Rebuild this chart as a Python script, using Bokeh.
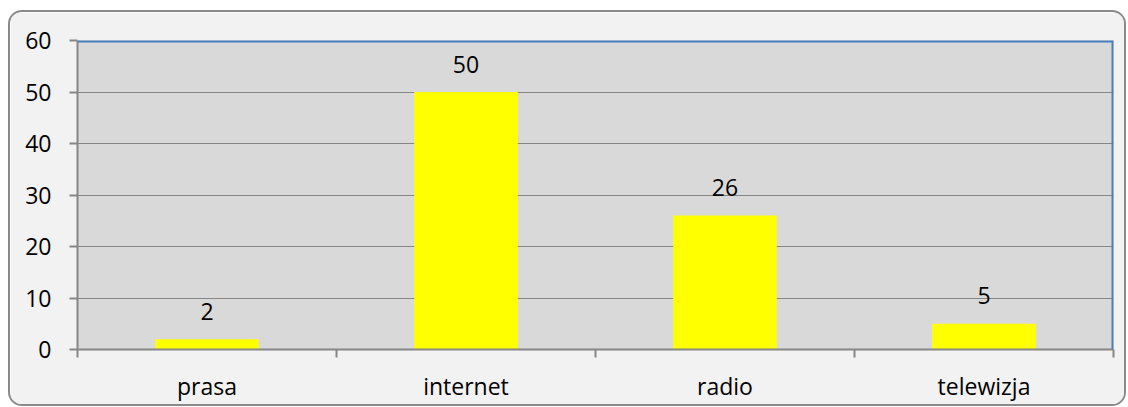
from bokeh.plotting import figure
from bokeh.models import Range1d, FixedTicker, ColumnDataSource, Span
from bokeh.embed import file_html
from bokeh.resources import INLINE
from bokeh.core.properties import value

categories = ["prasa", "internet", "radio", "telewizja"]
counts = [2, 50, 26, 5]
y_ticks = [0, 10, 20, 30, 40, 50, 60]

n = len(categories)
centers = [i + 0.5 for i in range(n)]
bounds = [float(i) for i in range(n + 1)]

src = ColumnDataSource(dict(x=centers, top=counts, label=[str(c) for c in counts]))

FONT = "Open Sans"
FS = "23px"

p = figure(frame_width=1036, frame_height=309,
           x_range=Range1d(0, n), y_range=Range1d(0, 60),
           output_backend="svg", toolbar_location=None,
           min_border_left=67, min_border_right=11,
           min_border_top=28, min_border_bottom=55)

p.background_fill_color = "#d9d9d9"
p.border_fill_color = "#f2f2f2"
p.outline_line_color = None
p.styles = {"border": "2px solid #8a8a8a", "border-radius": "14px",
            "overflow": "hidden", "margin-left": "8px", "margin-top": "10px"}

p.vbar(x="x", top="top", width=0.4, bottom=0, source=src,
       fill_color="#ffff00", line_color=None)

p.text(x="x", y="top", text="label", source=src, text_align="center",
       text_baseline="alphabetic", y_offset=-28,
       text_font=value(FONT), text_font_size=FS, text_color="black")

# blue top and right frame edges
p.add_layout(Span(location=y_ticks[-1], dimension="width",
                  line_color="#4a7ebb", line_width=4))
p.add_layout(Span(location=n, dimension="height",
                  line_color="#4a7ebb", line_width=4))

# x axis
xa = p.xaxis[0]
xa.ticker = FixedTicker(ticks=centers, minor_ticks=bounds)
xa.major_label_overrides = {c: lab for c, lab in zip(centers, categories)}
xa.major_tick_out = 0
xa.major_tick_in = 0
xa.minor_tick_out = 8
xa.minor_tick_in = 0
xa.minor_tick_line_color = "#868686"
xa.minor_tick_line_width = 2
xa.axis_line_color = "#868686"
xa.axis_line_width = 2
xa.major_label_text_font = FONT
xa.major_label_text_font_size = FS
xa.major_label_text_color = "black"
xa.major_label_standoff = 12

# y axis
ya = p.yaxis[0]
ya.ticker = FixedTicker(ticks=y_ticks)
ya.major_tick_out = 8
ya.major_tick_in = 0
ya.minor_tick_line_color = None
ya.major_tick_line_color = "#868686"
ya.major_tick_line_width = 2
ya.axis_line_color = "#868686"
ya.axis_line_width = 2
ya.major_label_text_font = FONT
ya.major_label_text_font_size = FS
ya.major_label_text_color = "black"
ya.major_label_standoff = 18

p.xgrid.grid_line_color = None
p.ygrid.ticker = FixedTicker(ticks=y_ticks)
p.ygrid.grid_line_color = "#868686"
p.ygrid.grid_line_width = 1

open("out.html", "w").write(file_html(p, INLINE))
